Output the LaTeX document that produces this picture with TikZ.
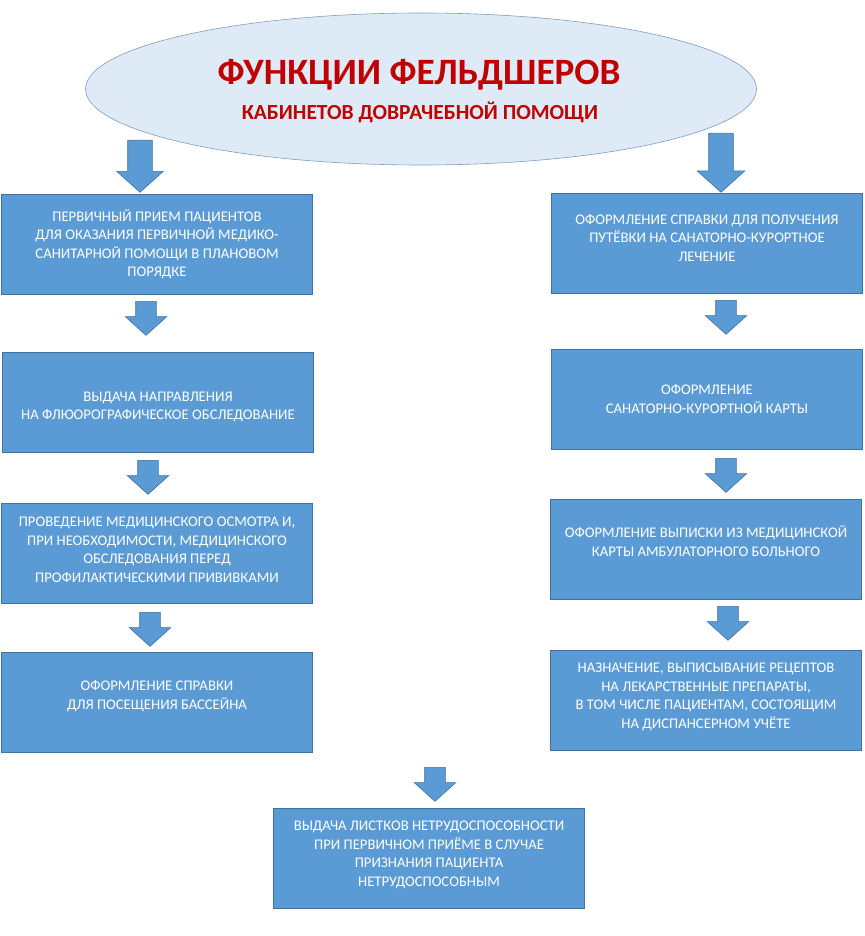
\documentclass[tikz,border=0pt]{standalone}
\usepackage{fontspec}
\setmainfont{Carlito}
\usepackage{tikz}
\usetikzlibrary{shapes}
\usetikzlibrary{shapes.arrows}
\usetikzlibrary{calc}
\definecolor{boxblue}{HTML}{5B9BD5}
\definecolor{boxedge}{HTML}{41719C}
\definecolor{ovalfill}{HTML}{DEEBF7}
\definecolor{ovaledge}{HTML}{7F9DC4}
\definecolor{titlered}{HTML}{C00000}
\tikzstyle{funcbox}=[rectangle,fill=boxblue,draw=boxedge,line width=0.6pt,minimum width=311pt,minimum height=100pt,inner sep=0pt]
\tikzstyle{boxtext}=[align=center,text=white,inner sep=0pt,font=\fontsize{14.7}{18.5}\selectfont]
\tikzstyle{downarrow}=[single arrow,shape border rotate=270,fill=boxblue,draw=boxedge,line width=0.6pt,inner sep=10pt,single arrow head extend=10.5pt,single arrow tip angle=96,anchor=tail]
\tikzstyle{oval}=[ellipse,fill=ovalfill,draw=ovaledge,line width=0.6pt,minimum width=671pt,minimum height=152pt,inner sep=0pt]

\begin{document}
\begin{tikzpicture}[x=1pt,y=-1pt]

  \useasboundingbox (0,0) rectangle (864,936);

  % head oval
  \node[oval] (head) at (421,89) {};
  \node[text=titlered,font=\fontsize{37.2}{40}\selectfont\bfseries] (title) at (419,75) {ФУНКЦИИ ФЕЛЬДШЕРОВ};
  \node[text=titlered,font=\fontsize{21.5}{24}\selectfont\bfseries] (subtitle) at (420,112) {КАБИНЕТОВ ДОВРАЧЕБНОЙ ПОМОЩИ};

  % boxes: x/y/text shift/name/label
  \foreach \x/\y/\ty/\name/\label in {
      157/244/0/prim/{ПЕРВИЧНЫЙ ПРИЕМ ПАЦИЕНТОВ\\ДЛЯ ОКАЗАНИЯ ПЕРВИЧНОЙ МЕДИКО-\\САНИТАРНОЙ ПОМОЩИ В ПЛАНОВОМ\\ПОРЯДКЕ},
      158/402/5/flu/{ВЫДАЧА НАПРАВЛЕНИЯ\\НА ФЛЮОРОГРАФИЧЕСКОЕ ОБСЛЕДОВАНИЕ},
      157/553/-3/osm/{ПРОВЕДЕНИЕ МЕДИЦИНСКОГО ОСМОТРА И,\\ПРИ НЕОБХОДИМОСТИ, МЕДИЦИНСКОГО\\ОБСЛЕДОВАНИЯ ПЕРЕД\\ПРОФИЛАКТИЧЕСКИМИ ПРИВИВКАМИ},
      157/702/-6/pool/{ОФОРМЛЕНИЕ СПРАВКИ\\ДЛЯ ПОСЕЩЕНИЯ БАССЕЙНА},
      707/243/-5/sprav/{ОФОРМЛЕНИЕ СПРАВКИ ДЛЯ ПОЛУЧЕНИЯ\\ПУТЁВКИ НА САНАТОРНО-КУРОРТНОЕ\\ЛЕЧЕНИЕ},
      707/399/0/karta/{ОФОРМЛЕНИЕ\\САНАТОРНО-КУРОРТНОЙ КАРТЫ},
      706/549/-8/vypis/{ОФОРМЛЕНИЕ ВЫПИСКИ ИЗ МЕДИЦИНСКОЙ\\КАРТЫ АМБУЛАТОРНОГО БОЛЬНОГО},
      706/700/-3/recept/{НАЗНАЧЕНИЕ, ВЫПИСЫВАНИЕ РЕЦЕПТОВ\\НА ЛЕКАРСТВЕННЫЕ ПРЕПАРАТЫ,\\В ТОМ ЧИСЛЕ ПАЦИЕНТАМ, СОСТОЯЩИМ\\НА ДИСПАНСЕРНОМ УЧЁТЕ},
      429/858/-3/list/{ВЫДАЧА ЛИСТКОВ НЕТРУДОСПОСОБНОСТИ\\ПРИ ПЕРВИЧНОМ ПРИЁМЕ В СЛУЧАЕ\\ПРИЗНАНИЯ ПАЦИЕНТА\\НЕТРУДОСПОСОБНЫМ}}
  {
          \node[funcbox] (\name) at (\x,\y) {};
          \node[boxtext] (\name-txt) at ($(\name)+(0,\ty)$) {\label};
  }

  % block arrows
  \node[downarrow,inner sep=12pt,single arrow head extend=11pt,minimum height=52pt] (toprim) at (140,140) {};
  \node[downarrow,inner sep=12pt,single arrow head extend=11.5pt,minimum height=59pt] (tosprav) at (721,133) {};

  \foreach \x/\y/\name in {146/301/toflu, 148/460/toosm, 150/612/topool,
                           726/300/tokarta, 726/458/tovypis, 728/606/torecept,
                           435/767/tolist}
          \node[downarrow,minimum height=34pt] (\name) at (\x,\y) {};

\end{tikzpicture}
\end{document}
